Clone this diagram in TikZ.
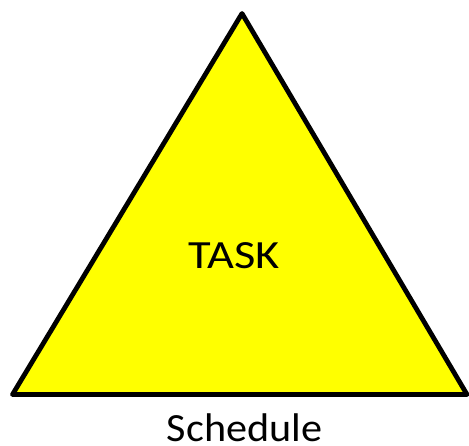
\documentclass[tikz,border=0pt]{standalone}
\usepackage{fontspec}
\setmainfont{Carlito}
\definecolor{triyellow}{RGB}{255,255,0}
\begin{document}
\begin{tikzpicture}[x=1pt,y=-1pt,
  tri/.style={draw=black,fill=triyellow,line width=4.8pt,line join=round},
  lbl/.style={inner sep=0pt,anchor=base,text=black}]
\useasboundingbox (0,0) rectangle (469,445);
\coordinate (top) at (242,13.5);
\coordinate (bl) at (12.5,394.5);
\coordinate (br) at (467,394.5);
\draw[tri] (top) -- (br) -- (bl) -- cycle;
\node[lbl,font=\fontsize{40}{44}\selectfont] (task) at (234,268.3) {\scalebox{1.16}[1]{TASK}};
\node[lbl,font=\fontsize{40}{44}\selectfont] (sched) at (244.7,441) {\scalebox{1.055}[1]{Schedule}};
\end{tikzpicture}
\end{document}
